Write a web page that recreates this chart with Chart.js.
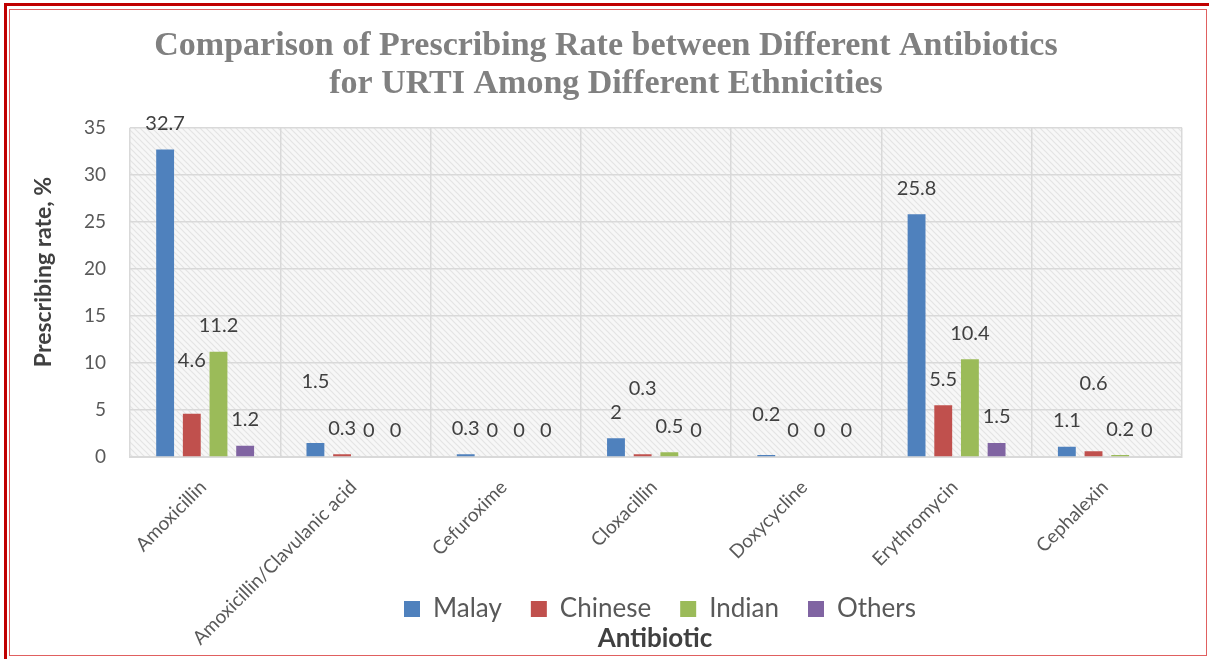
<!DOCTYPE html>
<html>
<head>
<meta charset="utf-8">
<script src="https://cdn.jsdelivr.net/npm/chart.js@4"></script>
<style>
  body { margin: 0; background: #fff; }
  #wrap { position: relative; width: 1209px; height: 659px; }
  #chart { position: absolute; left: 0; top: 0; }
  .outer { position: absolute; left: 4px; top: 3px; width: 1205px; height: 656px;
           border-top: 3px solid #c00000; border-left: 3px solid #c00000; pointer-events: none; }
  .inner { position: absolute; left: 9px; top: 9px; width: 1196px; height: 645px;
           border: 1px solid #e06060; pointer-events: none; }
</style>
</head>
<body>
<div id="wrap">
  <canvas id="chart" width="1209" height="659"></canvas>
  <div class="outer"></div>
  <div class="inner"></div>
</div>
<script>
const antibiotics = ['Amoxicillin', 'Amoxicillin/Clavulanic acid', 'Cefuroxime', 'Cloxacillin',
  'Doxycycline', 'Erythromycin', 'Cephalexin']
const malay = [32.7, 1.5, 0.3, 2, 0.2, 25.8, 1.1]
const chinese = [4.6, 0.3, 0, 0.3, 0, 5.5, 0.6]
const indian = [11.2, 0, 0, 0.5, 0, 10.4, 0.2]
const others = [1.2, 0, 0, 0, 0, 1.5, 0]
const yTicks = [0, 5, 10, 15, 20, 25, 30, 35]

// labels that were dragged upwards in the original (dataset:index -> extra lift px)
const labelLift = { '1:0': 27, '0:1': 35, '1:3': 40, '0:4': 15, '1:6': 42 }

const textColor = '#595959'
const gridColor = '#d9d9d9'

// light diagonal hatch behind the plot
function hatch() {
    const c = document.createElement('canvas')
    c.width = 6
    c.height = 6
    const g = c.getContext('2d')
    g.fillStyle = '#f7f7f7'
    g.fillRect(0, 0, 6, 6)
    g.strokeStyle = '#e4e4e4'
    g.lineWidth = 1.2
    g.beginPath()
    g.moveTo(-1, -1); g.lineTo(7, 7)
    g.moveTo(-4, 2); g.lineTo(4, 10)
    g.moveTo(2, -4); g.lineTo(10, 4)
    g.stroke()
    return c
}

const plotBg = {
    id: 'plotBg',
    beforeDraw(chart) {
        const { ctx, chartArea: a } = chart
        ctx.save()
        ctx.fillStyle = ctx.createPattern(hatch(), 'repeat')
        ctx.fillRect(a.left, a.top, a.right - a.left, a.bottom - a.top)
        ctx.restore()
    }
}

// excel had the legend and the axis title sitting a bit right of centre
const nudgeBoxes = {
    id: 'nudgeBoxes',
    afterLayout(chart) {
        chart.legend.left += 54
        chart.legend.right += 54
        const sub = chart.boxes.find(b => b.options && b.options.text === 'Antibiotic')
        if (sub) {
            sub.left += 49
            sub.right += 49
        }
    }
}

const valueLabels = {
    id: 'valueLabels',
    afterDatasetsDraw(chart) {
        const ctx = chart.ctx
        ctx.save()
        ctx.font = '20px Lato'
        ctx.fillStyle = '#404040'
        ctx.textAlign = 'center'
        ctx.textBaseline = 'middle'
        chart.data.datasets.forEach((ds, i) => {
            chart.getDatasetMeta(i).data.forEach((bar, j) => {
                const lift = labelLift[i + ':' + j] || 0
                ctx.fillText(String(ds.data[j]), bar.x, bar.y - 26 - lift)
            })
        })
        ctx.restore()
    }
}

// rotated category labels and y title, drawn by hand so they can sit where excel put them
const axisText = {
    id: 'axisText',
    afterDraw(chart) {
        const ctx = chart.ctx
        const xs = chart.scales.x
        ctx.save()
        ctx.font = '19px Lato'
        ctx.fillStyle = textColor
        ctx.textAlign = 'right'
        ctx.textBaseline = 'middle'
        chart.data.labels.forEach((lab, i) => {
            ctx.save()
            ctx.translate(xs.getPixelForValue(i) - 2, xs.top + 27)
            ctx.rotate(-Math.PI / 4)
            ctx.fillText(lab, 0, 0)
            ctx.restore()
        })
        ctx.font = 'bold 23px Lato'
        ctx.fillStyle = '#404040'
        ctx.textAlign = 'center'
        ctx.translate(44, 272)
        ctx.rotate(-Math.PI / 2)
        ctx.fillText('Prescribing rate, %', 0, 0)
        ctx.restore()
    }
}

const chartContainer = document.getElementById('chart')

const myChart = new Chart(chartContainer, {
    type: 'bar',
    data: {
        labels: antibiotics,
        datasets: [
            { label: 'Malay', data: malay, backgroundColor: '#4f81bd' },
            { label: 'Chinese', data: chinese, backgroundColor: '#c0504d' },
            { label: 'Indian', data: indian, backgroundColor: '#9bbb59' },
            { label: 'Others', data: others, backgroundColor: '#8064a2' }
        ]
    },
    options: {
        responsive: false,
        animation: false,
        categoryPercentage: 0.71,
        barPercentage: 0.67,
        layout: { padding: { left: 30, right: 27, top: 10, bottom: 14 } },
        plugins: {
            tooltip: { enabled: false },
            title: {
                display: true,
                text: ['Comparison of Prescribing Rate between Different Antibiotics',
                    'for URTI Among Different Ethnicities'],
                color: '#808080',
                font: { family: 'Liberation Serif', size: 34, weight: 'bold', lineHeight: 1.1 },
                padding: { top: 18, bottom: 25 }
            },
            subtitle: {
                display: true,
                position: 'bottom',
                text: 'Antibiotic',
                color: '#404040',
                font: { family: 'Lato', size: 26, weight: 'bold', lineHeight: 0.5 },
                padding: 0
            },
            legend: {
                position: 'bottom',
                labels: {
                    color: textColor,
                    font: { family: 'Lato', size: 26 },
                    boxWidth: 16,
                    boxHeight: 16,
                    padding: 29
                }
            }
        },
        scales: {
            x: {
                grid: { color: gridColor, lineWidth: 1.5, drawTicks: false, offset: true },
                border: { color: gridColor, width: 2 },
                ticks: { display: false },
                afterFit(scale) { scale.height = 110 }
            },
            y: {
                min: 0,
                max: 35,
                afterBuildTicks(scale) { scale.ticks = yTicks.map(v => ({ value: v })) },
                grid: { color: gridColor, lineWidth: 1.5, drawTicks: false },
                border: { display: false },
                ticks: {
                    color: textColor,
                    font: { family: 'Lato', size: 19 },
                    padding: 24
                },
                afterFit(scale) { scale.width = 100 }
            }
        }
    },
    plugins: [plotBg, nudgeBoxes, valueLabels, axisText]
})
</script>
</body>
</html>
